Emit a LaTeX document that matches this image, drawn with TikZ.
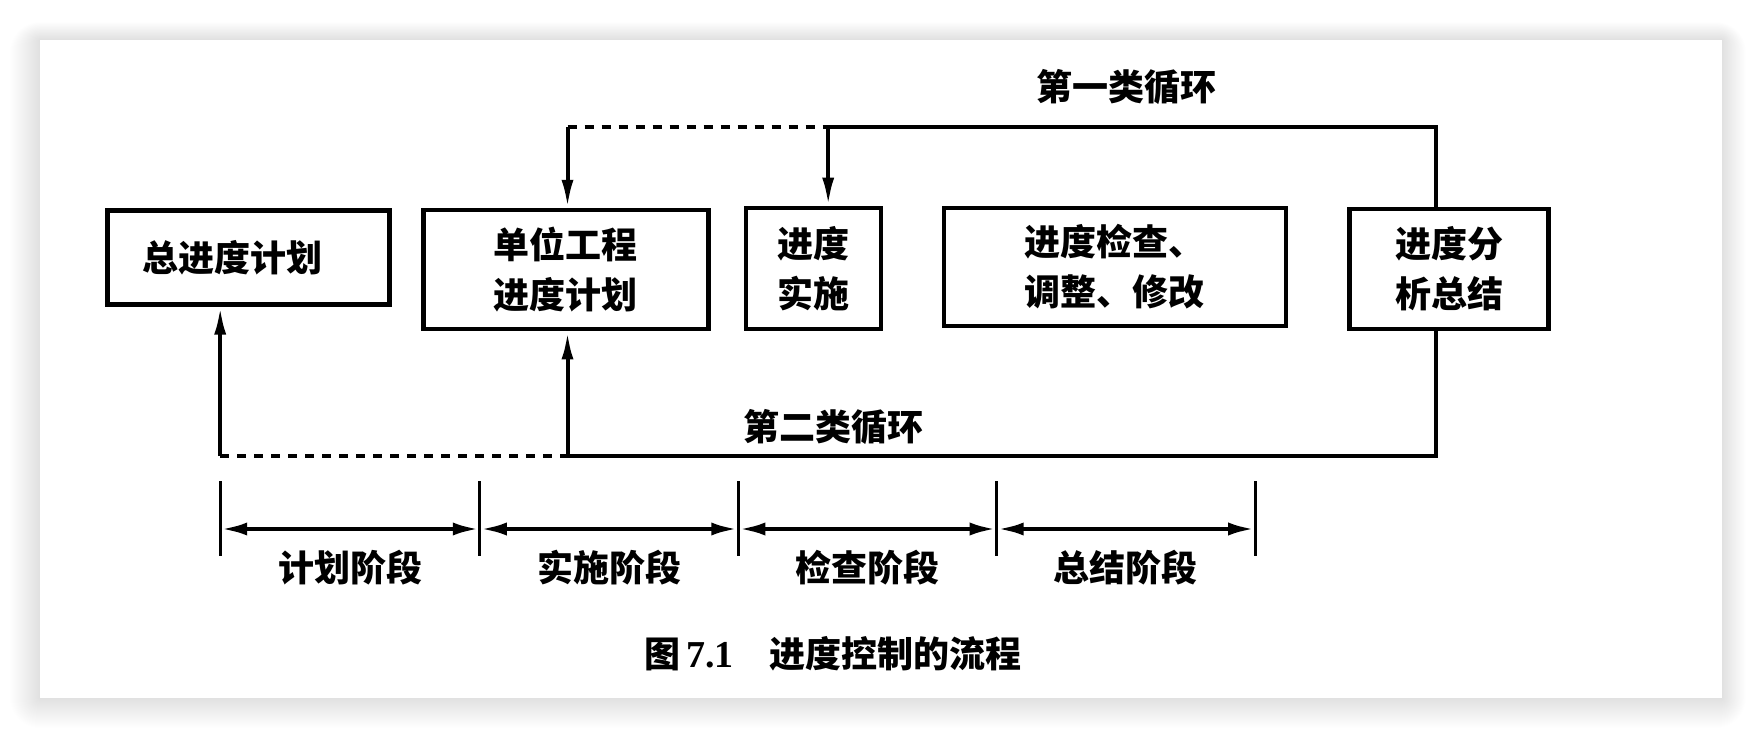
\documentclass[tikz,border=0pt]{standalone}
\usepackage{fontspec}
\newfontfamily\cjk{Noto Sans CJK SC}
\newfontfamily\serifb{Liberation Serif}
\usetikzlibrary{arrows.meta,calc}
\begin{document}
\begin{tikzpicture}[x=1pt,y=-1pt,
  box/.style={draw,line width=4.5pt,inner sep=0pt,align=center,
    font=\cjk\bfseries\fontsize{36}{50}\selectfont},
  lbl/.style={inner sep=0pt,font=\cjk\bfseries\fontsize{36}{40}\selectfont},
  conn/.style={line width=4pt},
  dashline/.style={line width=4pt,dash pattern=on 9pt off 8pt},
  arr/.style={-{Latex[length=28pt,width=12pt]}},
  dbl/.style={line width=4.5pt,{Latex[length=27pt,width=13pt]}-{Latex[length=27pt,width=13pt]}},
  tick/.style={line width=3.2pt},
  ]
\useasboundingbox (0,0) rectangle (1762,738);
\fill[white] (0,0) rectangle (1762,738);
\foreach \i in {1,...,30}{
  \fill[black,opacity=0.0035,rounded corners=\i pt] (40-\i,40-\i*0.6) rectangle (1722+\i*0.8,698+\i);
}
\fill[white] (40,40) rectangle (1722,698);

% boxes
\node[box,minimum width=282pt,minimum height=94pt] (b1) at (248.3,257.3) {\hspace*{-32pt}\raisebox{-6pt}{总进度计划}};
\node[box,minimum width=285pt,minimum height=119pt] (b2) at (565.8,269.7) {单位工程\\进度计划};
\node[box,minimum width=135pt,minimum height=121pt] (b3) at (813.5,268.5) {进度\\实施};
\node[box,minimum width=342pt,minimum height=118pt] (b4) at (1114.8,266.8) {进度检查、\\调整、修改};
\node[box,minimum width=199pt,minimum height=120pt] (b5) at (1449,269) {进度分\\析总结};

% first loop
\coordinate (t1) at (567.5,127.5);
\coordinate (t2) at (828.2,127.5);
\coordinate (t3) at (1436,127.5);
\draw[dashline] (t1) -- (t2);
\draw[conn] (t2) -- (t3) -- (t3 |- b5.north);
\draw[conn,arr] (t1) -- (t1 |- b2.north);
\draw[conn,arr] (t2) -- (t2 |- b3.north);
\node[lbl] (l1) at (1126,87) {第一类循环};

% second loop
\coordinate (u1) at (220.2,456);
\coordinate (u2) at (567.5,456);
\coordinate (u3) at (1436,456);
\draw[dashline] (u1) -- (u2);
\draw[conn] (u3 |- b5.south) -- (u3) -- (u2);
\draw[conn,arr] (u1) -- (u1 |- b1.south);
\draw[conn,arr] (u2) -- (u2 |- b2.south);
\node[lbl] (l2) at (833,427) {第二类循环};

% phases
\foreach \n/\x in {0/220.2,1/479.8,2/738.3,3/996.7,4/1255.2}{
  \coordinate (p\n t) at (\x,481);
  \coordinate (p\n b) at (\x,556);
  \coordinate (p\n) at (\x,529);
  \draw[tick] (p\n t) -- (p\n b);
}
\draw[dbl] (p0) -- (p1);
\draw[dbl] (p1) -- (p2);
\draw[dbl] (p2) -- (p3);
\draw[dbl] (p3) -- (p4);
\node[lbl] (s1) at ($(p0)!0.5!(p1)+(0,39)$) {计划阶段};
\node[lbl] (s2) at ($(p1)!0.5!(p2)+(0,39)$) {实施阶段};
\node[lbl] (s3) at ($(p2)!0.5!(p3)+(0,39)$) {检查阶段};
\node[lbl] (s4) at ($(p3)!0.5!(p4)+(0,39)$) {总结阶段};

% caption
\node[lbl] (cap) at (833,654) {图\,{\serifb\bfseries\fontsize{38}{40}\selectfont 7.1}\hspace{36pt}进度控制的流程};
\end{tikzpicture}
\end{document}
